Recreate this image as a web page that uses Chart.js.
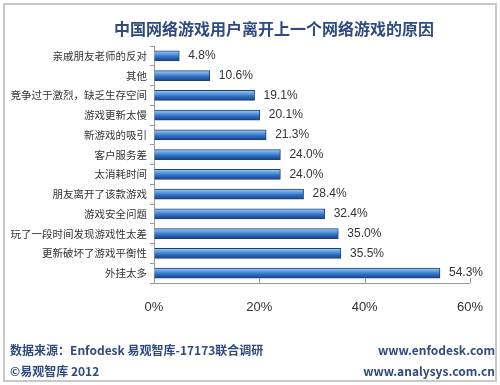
<!DOCTYPE html>
<html><head><meta charset="utf-8">
<script src="https://cdn.jsdelivr.net/npm/chart.js@4"></script>
<style>
html,body{margin:0;padding:0;background:#fff;}
#wrap{position:relative;width:500px;height:385px;overflow:hidden;}
#frame{position:absolute;left:3px;top:3px;width:490px;height:375px;border:2px solid #c8c8c8;}
canvas{position:absolute;left:0;top:0;}
.t{position:absolute;font-family:"Noto Sans CJK SC","Noto Sans",sans-serif;font-weight:bold;color:#2f4a7c;white-space:nowrap;}
</style></head>
<body><div id="wrap"><div id="frame"></div><canvas id="c" width="500" height="385"></canvas>
<div class="t" style="left:0;width:548px;text-align:center;top:16px;font-size:16px;">中国网络游戏用户离开上一个网络游戏的原因</div>
<div class="t" style="left:10px;top:341px;font-size:12px;">数据来源：Enfodesk 易观智库-17173联合调研</div>
<div class="t" style="left:10px;top:362px;font-size:12px;">©易观智库 2012</div>
<div class="t" style="right:5px;top:341px;font-size:12px;">www.enfodesk.com</div>
<div class="t" style="right:5px;top:362px;font-size:12px;">www.analysys.com.cn</div>
</div>
<script>
const categories = ["亲戚朋友老师的反对","其他","竞争过于激烈，缺乏生存空间","游戏更新太慢","新游戏的吸引","客户服务差","太消耗时间","朋友离开了该款游戏","游戏安全问题","玩了一段时间发现游戏性太差","更新破坏了游戏平衡性","外挂太多"];
const values = [4.8,10.6,19.1,20.1,21.3,24.0,24.0,28.4,32.4,35.0,35.5,54.3];
const tickValues = [0,20,40,60];

const labelPlugin = {
  id:'vals',
  beforeDatasetsDraw(chart){
    const ctx = chart.ctx;
    const meta = chart.getDatasetMeta(0);
    meta.data.forEach(bar=>{
      const h = bar.height || 10;
      if(!isFinite(bar.y)) return;
      const g = ctx.createLinearGradient(0, bar.y - h/2, 0, bar.y + h/2);
      g.addColorStop(0,'#a8cdf4');
      g.addColorStop(0.25,'#6aa6e6');
      g.addColorStop(0.6,'#2f6fc4');
      g.addColorStop(1,'#1a4585');
      bar.options = Object.assign({}, bar.options, {backgroundColor:g});
    });
  },
  afterDatasetsDraw(chart){
    const ctx = chart.ctx;
    const meta = chart.getDatasetMeta(0);
    ctx.save();
    ctx.font = '12px "Liberation Sans","DejaVu Sans",sans-serif';
    ctx.fillStyle = '#333';
    ctx.textBaseline = 'middle';
    meta.data.forEach((bar,i)=>{
      ctx.fillText(values[i].toFixed(1)+'%', bar.x+9, bar.y);
    });
    // inward tick marks on the x axis
    const xs = chart.scales.x;
    const yb = chart.chartArea.bottom;
    ctx.strokeStyle = '#999';
    ctx.lineWidth = 1;
    tickValues.forEach(v=>{
      const px = Math.round(xs.getPixelForValue(v)) + 0.5;
      ctx.beginPath(); ctx.moveTo(px, yb); ctx.lineTo(px, yb - 5); ctx.stroke();
    });
    ctx.restore();
  }
};

new Chart(document.getElementById('c'),{
  type:'bar',
  data:{labels:categories,datasets:[{data:values,backgroundColor:'#3a78c8',borderColor:'#1d4275',borderWidth:1,barThickness:10}]},
  options:{
    indexAxis:'y',responsive:false,animation:false,
    layout:{padding:{left:0,right:26,top:46,bottom:62}},
    plugins:{legend:{display:false},tooltip:{enabled:false},title:{display:false}},
    scales:{
      x:{min:0,max:60,
        afterBuildTicks(s){s.ticks = tickValues.map(v=>({value:v}));},
        afterFit(s){s.height = 40;},
        ticks:{callback:v=>v+'%',color:'#333',padding:17,font:{size:13,family:'"Liberation Sans","DejaVu Sans",sans-serif'}},
        grid:{display:true,drawOnChartArea:false,drawTicks:false,color:'#999'},
        border:{display:true,color:'#999'}},
      y:{
        afterFit(s){s.width = 154;},
        ticks:{color:'#333',padding:3,font:{size:10.5,family:'"Noto Sans CJK SC",sans-serif'}},
        grid:{drawOnChartArea:false,drawTicks:true,tickLength:4,color:'#999'},
        border:{display:true,color:'#999'}}
    }
  },
  plugins:[labelPlugin]
});
</script></body></html>
